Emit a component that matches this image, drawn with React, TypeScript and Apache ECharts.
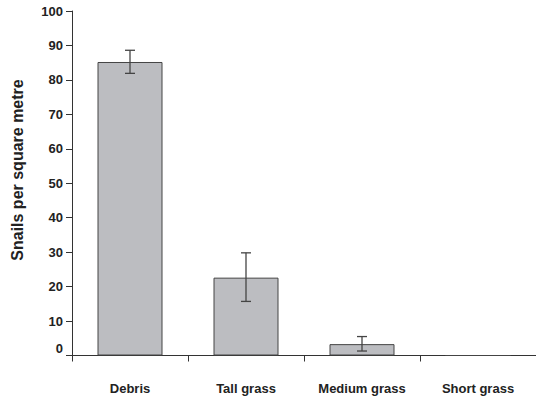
import React, { useEffect, useRef } from "react";
import * as echarts from "echarts";

const categories = ["Debris", "Tall grass", "Medium grass", "Short grass"];
const means = [85.2, 22.6, 3.3, 0];
const errLow = [81.9, 15.7, 1.3, 0];
const errHigh = [88.6, 29.8, 5.5, 0];
const yTicks = [0, 10, 20, 30, 40, 50, 60, 70, 80, 90, 100];
const yAxisTitle = "Snails per square metre";

export default function App() {
  const ref = useRef<HTMLDivElement>(null);
  useEffect(() => {
    if (!ref.current) return;
    const chart = echarts.init(ref.current, null, { renderer: "svg" });
    const font = "'Liberation Sans', Arial, sans-serif";
    const errData = categories
      .map((_, i) => [i, errLow[i], errHigh[i]])
      .filter((d) => d[2] > d[1]);
    chart.setOption({
      animation: false,
      backgroundColor: "#ffffff",
      grid: { left: 72, right: 0, top: 11, bottom: 43.5, containLabel: false },
      xAxis: {
        type: "category",
        data: categories,
        axisLine: { show: true, lineStyle: { color: "#333", width: 1 } },
        axisTick: { show: true, length: 6, lineStyle: { color: "#333" } },
        axisLabel: {
          margin: 26,
          color: "#222",
          fontFamily: font,
          fontWeight: "bold",
          fontSize: 13,
        },
      },
      yAxis: {
        type: "value",
        min: yTicks[0],
        max: yTicks[yTicks.length - 1],
        interval: 10,
        splitLine: { show: false },
        axisLine: { show: true, lineStyle: { color: "#333", width: 1 } },
        axisTick: { show: true, length: 6, lineStyle: { color: "#333" } },
        axisLabel: {
          margin: 9,
          color: "#222",
          fontFamily: font,
          fontWeight: "bold",
          fontSize: 13,
          formatter: (v: number) => (v === 0 ? "{z|0}" : String(v)),
          rich: {
            z: {
              fontFamily: font,
              fontWeight: "bold",
              fontSize: 13,
              color: "#222",
              padding: [0, 0, 14, 0],
            },
          },
        },
      },
      graphic: [
        {
          type: "text",
          x: 17,
          y: 170,
          rotation: Math.PI / 2,
          style: {
            text: yAxisTitle,
            fontFamily: font,
            fontWeight: "bold",
            fontSize: 16,
            fill: "#222",
            align: "center",
            verticalAlign: "middle",
          },
        },
      ],
      series: [
        {
          type: "bar",
          data: means,
          barWidth: 65,
          itemStyle: { color: "#bcbdc1", borderColor: "#444", borderWidth: 1 },
        },
        {
          type: "custom",
          data: errData,
          z: 10,
          renderItem: (params: any, api: any) => {
            const x = api.value(0);
            const lo = api.coord([x, api.value(1)]);
            const hi = api.coord([x, api.value(2)]);
            const hw = 5;
            const style = { stroke: "#444", lineWidth: 1.3 };
            return {
              type: "group",
              children: [
                { type: "line", shape: { x1: hi[0], y1: hi[1], x2: lo[0], y2: lo[1] }, style },
                { type: "line", shape: { x1: hi[0] - hw, y1: hi[1], x2: hi[0] + hw, y2: hi[1] }, style },
                { type: "line", shape: { x1: lo[0] - hw, y1: lo[1], x2: lo[0] + hw, y2: lo[1] }, style },
              ],
            };
          },
        },
      ],
    });
    return () => chart.dispose();
  }, []);
  return <div ref={ref} style={{ width: 536, height: 399, position: "absolute", left: 0, top: 0 }} />;
}
